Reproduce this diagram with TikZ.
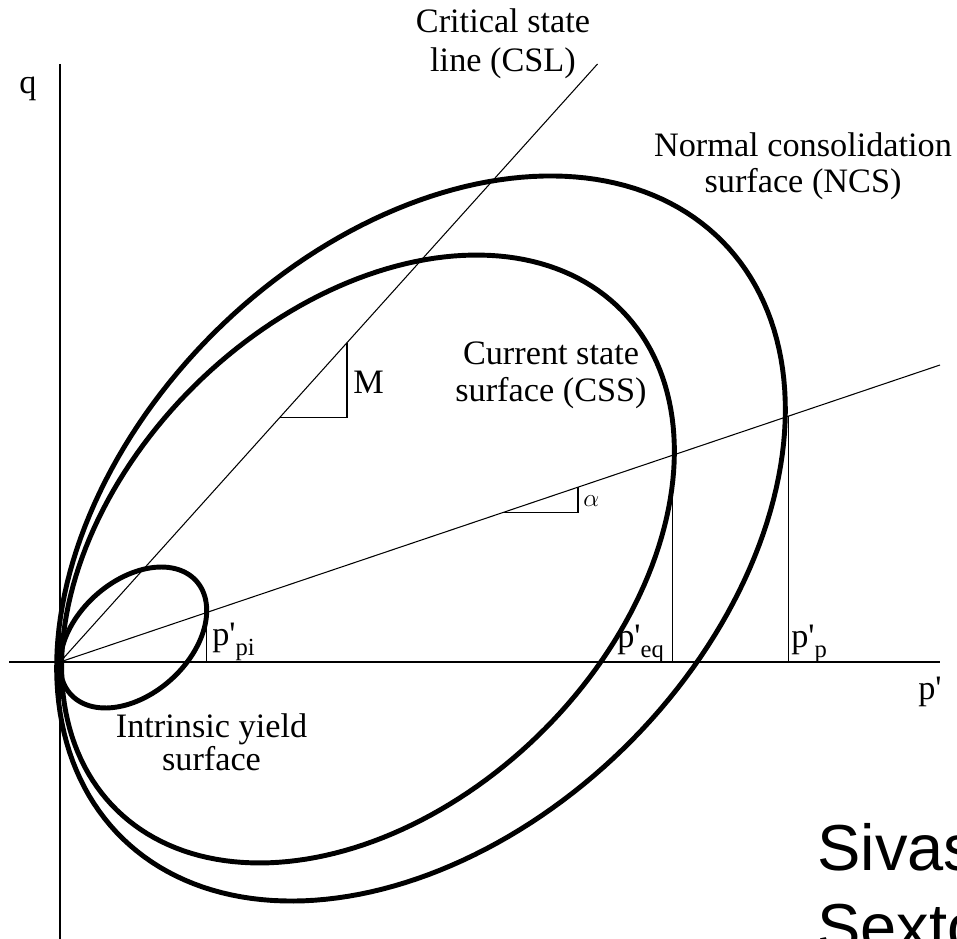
\documentclass[tikz,border=0pt]{standalone}
\usepackage{fontspec}
\setmainfont{Liberation Serif}
\newfontfamily\arialfont{Liberation Sans}
\newcommand\plabel[1]{p\textquotesingle\raisebox{-6pt}{\fontsize{14}{14}\selectfont #1}}
\begin{document}
\begin{tikzpicture}[x=0.02cm, y=-0.02cm,
  thinline/.style={line width=0.6pt},
  axisline/.style={line width=0.85pt},
  surf/.style={line width=2.8pt, line join=round},
  lbl/.style={font=\fontsize{19.5}{22}\selectfont, inner sep=0pt, anchor=base},
  lblw/.style={font=\fontsize{19.5}{22}\selectfont, inner sep=0pt, anchor=base west}]
\useasboundingbox (0,0) rectangle (957,939);
\clip (0,0) rectangle (957,939);
% axes
\coordinate (O) at (60,662);
\coordinate (xs) at (9,662);
\coordinate (xe) at (940,662);
\coordinate (yt) at (60,64);
\coordinate (yb) at (60,939);
\draw[axisline] (xs) -- (xe);
\draw[axisline] (yt) -- (yb);
% critical state line
\coordinate (cslend) at (597.5,64);
\draw[thinline] (O) -- (cslend);
\coordinate (m1) at (280,417.2);
\coordinate (m2) at (347,417.2);
\coordinate (m3) at (347,342.7);
\draw[thinline] (m1) -- (m2) -- (m3);
% alpha line
\coordinate (aend) at (940,365);
\draw[thinline] (O) -- (aend);
\coordinate (a1) at (503,512.5);
\coordinate (a2) at (578,512.5);
\coordinate (a3) at (578,487.2);
\draw[thinline] (a1) -- (a2) -- (a3);
% verticals
\coordinate (v1t) at (206.7,612.5); \coordinate (v1b) at (206.7,662);
\coordinate (v2t) at (672.7,455.2); \coordinate (v2b) at (672.7,662);
\coordinate (v3t) at (788.7,416.1); \coordinate (v3b) at (788.7,662);
\draw[thinline] (v1t) -- (v1b);
\draw[thinline] (v2t) -- (v2b);
\draw[thinline] (v3t) -- (v3b);
% surfaces: rotated ellipses (centre h,k ; semi-axes a,b ; angle t)
% NCS
\draw[surf] plot[domain=0:360, samples=200]
  ({421 + 423.2*cos(44.6)*cos(\x) - 291.8*sin(44.6)*sin(\x)},
   {538.5 - 423.2*sin(44.6)*cos(\x) - 291.8*cos(44.6)*sin(\x)}) -- cycle;
% CSS
\draw[surf] plot[domain=0:360, samples=200]
  ({368 + 355.2*cos(44.36)*cos(\x) - 245.2*sin(44.36)*sin(\x)},
   {559 - 355.2*sin(44.36)*cos(\x) - 245.2*cos(44.36)*sin(\x)}) -- cycle;
% intrinsic
\draw[surf] plot[domain=0:360, samples=120]
  ({133.35 + 84.6*cos(42)*cos(\x) - 56.5*sin(42)*sin(\x)},
   {637.5 - 84.6*sin(42)*cos(\x) - 56.5*cos(42)*sin(\x)}) -- cycle;
% labels
\node[lbl] (csl1) at (503,33) {Critical state};
\node[lbl] (csl2) at (503,72) {line (CSL)};
\node[lbl] (ncs1) at (803,157) {Normal consolidation};
\node[lbl] (ncs2) at (803,193) {surface (NCS)};
\node[lbl] (css1) at (551,364) {Current state};
\node[lbl] (css2) at (551,401) {surface (CSS)};
\node[lbl] (iys1) at (211.5,737) {Intrinsic yield};
\node[lbl] (iys2) at (211.5,770) {surface};
\node[lblw] (mlab) at (353,393) {M};
\node[inner sep=0pt, anchor=base west, font=\fontsize{15}{15}\selectfont] (alab) at (583,506) {$\alpha$};
\node[lblw] (qlab) at (19,94) {q};
\node[lblw] (plab) at (918,699) {p\textquotesingle};
\node[lblw] (ppi) at (212,645) {\plabel{pi}};
\node[lblw] (peq) at (617,647) {\plabel{eq}};
\node[lblw] (ppp) at (791,647) {\plabel{p}};
\node[inner sep=0pt, anchor=base west, font=\arialfont\fontsize{37}{44}\selectfont] (auth1) at (817,870) {Sivasithamparam};
\node[inner sep=0pt, anchor=base west, font=\arialfont\fontsize{37}{44}\selectfont] (auth2) at (817,949) {Sexton};
\end{tikzpicture}
\end{document}
